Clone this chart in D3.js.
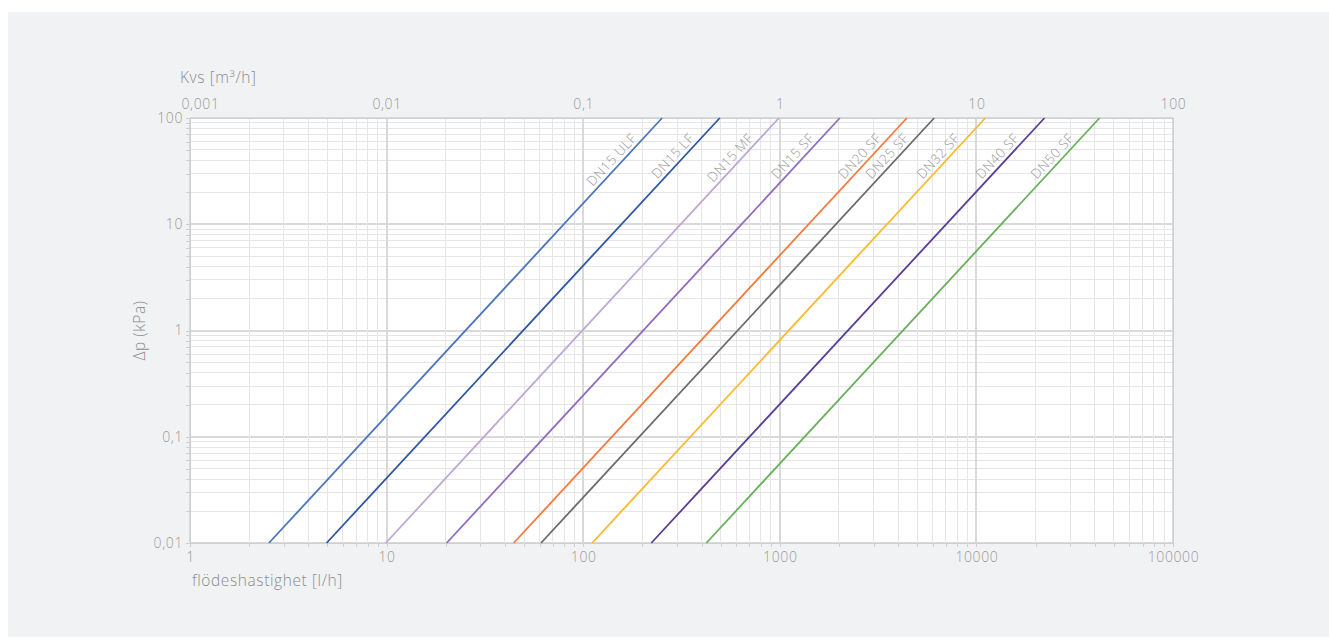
<!DOCTYPE html>
<html>
    <head>
        <meta charset="utf-8">
        <title>Tryckfall DN15-DN50</title>
        <script src="https://d3js.org/d3.v7.min.js"></script>
        <style>
            body { margin: 0; background: #fff; font-family: "Open Sans", "Lato", sans-serif; font-weight: 300; }
            svg { display: block; }
            .grid line { shape-rendering: crispEdges; }
            .axis path, .axis line { stroke: #cfcfcf; shape-rendering: crispEdges; }
            .axis text { fill: #999; font-size: 14px; letter-spacing: 0.6px; font-family: "Open Sans", "Lato", sans-serif; font-weight: 300; }
            .title { fill: #8c8c8c; font-size: 15.5px; letter-spacing: 0.6px; }
            .serie-label { fill: #999; font-size: 13.5px; letter-spacing: 0.5px; }
        </style>
    </head>
    <body>
        <script>
            const SERIES = ["DN15 ULF", "DN15 LF", "DN15 MF", "DN15 SF", "DN20 SF", "DN25 SF", "DN32 SF", "DN40 SF", "DN50 SF"];
            const FLOW_AT_MIN = [2.52, 4.95, 9.9, 20.2, 44.3, 61, 111, 222, 423];          // l/h at 0.01 kPa
            const FLOW_AT_MAX = [252, 495, 990, 2020, 4430, 6100, 11100, 22200, 42300];   // l/h at 100 kPa
            const COLORS = ["#4a74c0", "#2e56a3", "#c0a7d6", "#8f6cbf", "#f47b3b", "#6a6a6a", "#fbb92c", "#5c3b98", "#67b15a"];

            const X_MAJOR = [1, 10, 100, 1000, 10000, 100000];
            const X_LABELS = ["1", "10", "100", "1000", "10000", "100000"];
            const KVS_MAJOR = [0.001, 0.01, 0.1, 1, 10, 100];
            const KVS_LABELS = ["0,001", "0,01", "0,1", "1", "10", "100"];
            const Y_MAJOR = [0.01, 0.1, 1, 10, 100];
            const Y_LABELS = ["0,01", "0,1", "1", "10", "100"];

            const width = 1329;
            const height = 639;
            const margin = {left: 190, right: 156, top: 118, bottom: 96};

            const svg = d3.select("body")
                .append("svg")
                .attr("width", width)
                .attr("height", height);

            svg.append("rect")
                .attr("x", 8).attr("y", 12)
                .attr("width", width - 8).attr("height", height - 14)
                .attr("fill", "#f1f2f4");

            const x = d3.scaleLog()
                .domain([1, 100000])
                .range([margin.left, width - margin.right]);
            const xKvs = d3.scaleLog()
                .domain([0.001, 100])
                .range(x.range());
            const y = d3.scaleLog()
                .domain([0.01, 100])
                .range([height - margin.bottom, margin.top]);

            const isMajor = v => Math.abs(Math.log10(v) - Math.round(Math.log10(v))) < 1e-9;

            svg.append("rect")
                .attr("x", x.range()[0]).attr("y", y.range()[1])
                .attr("width", x.range()[1] - x.range()[0])
                .attr("height", y.range()[0] - y.range()[1])
                .attr("fill", "#fff");

            // grid, minor first so the decades lie on top
            const grid = svg.append("g").attr("class", "grid");
            const xTicks = x.ticks().sort((a, b) => isMajor(a) - isMajor(b));
            const yTicks = y.ticks().sort((a, b) => isMajor(a) - isMajor(b));

            grid.selectAll(".gy")
                .data(yTicks)
                .enter()
                .append("line")
                .attr("x1", x.range()[0]).attr("x2", x.range()[1])
                .attr("y1", d => y(d)).attr("y2", d => y(d))
                .attr("stroke", d => isMajor(d) ? "#d9d9d9" : "#e6e6e6")
                .attr("stroke-width", d => isMajor(d) ? 2 : 1);

            grid.selectAll(".gx")
                .data(xTicks)
                .enter()
                .append("line")
                .attr("y1", y.range()[0]).attr("y2", y.range()[1])
                .attr("x1", d => x(d)).attr("x2", d => x(d))
                .attr("stroke", d => isMajor(d) ? "#d9d9d9" : "#e6e6e6")
                .attr("stroke-width", d => isMajor(d) ? 2 : 1);

            svg.append("rect")
                .attr("x", x.range()[0] + 0.5).attr("y", y.range()[1] + 0.5)
                .attr("width", x.range()[1] - x.range()[0])
                .attr("height", y.range()[0] - y.range()[1])
                .attr("fill", "none")
                .attr("stroke", "#d0d0d0");

            // axes
            const labelOf = (majors, labels) => d => {
                const i = majors.findIndex(m => Math.abs(m - d) / m < 1e-6);
                return i < 0 ? "" : labels[i];
            };

            svg.append("g")
                .attr("class", "axis")
                .attr("transform", `translate(0,${y.range()[0]})`)
                .call(d3.axisBottom(x).tickValues(x.ticks()).tickSize(4).tickPadding(5)
                    .tickFormat(labelOf(X_MAJOR, X_LABELS)));

            svg.append("g")
                .attr("class", "axis")
                .attr("transform", `translate(${x.range()[0]},0)`)
                .call(d3.axisLeft(y).tickValues(y.ticks()).tickSize(4).tickPadding(3)
                    .tickFormat(labelOf(Y_MAJOR, Y_LABELS)));

            const kvsAxis = svg.append("g")
                .attr("class", "axis")
                .attr("transform", `translate(0,${y.range()[1]})`)
                .call(d3.axisTop(xKvs).tickValues(KVS_MAJOR).tickSize(0).tickPadding(9)
                    .tickFormat(labelOf(KVS_MAJOR, KVS_LABELS)));
            kvsAxis.select(".domain").remove();
            kvsAxis.select(".tick text").attr("text-anchor", "start").attr("dx", -9);

            svg.append("text")
                .attr("class", "title")
                .attr("x", 180).attr("y", 83)
                .text("Kvs [m³/h]");

            svg.append("text")
                .attr("class", "title")
                .attr("x", 192).attr("y", 586)
                .text("flödeshastighet [l/h]");

            svg.append("text")
                .attr("class", "title")
                .attr("transform", `translate(145,${(y.range()[0] + y.range()[1]) / 2}) rotate(-90)`)
                .attr("text-anchor", "middle")
                .text("Δp (kPa)");

            // the valve lines
            const lines = svg.append("g");
            lines.selectAll("line")
                .data(SERIES)
                .enter()
                .append("line")
                .attr("x1", (d, i) => x(FLOW_AT_MIN[i]))
                .attr("y1", y(0.01))
                .attr("x2", (d, i) => x(FLOW_AT_MAX[i]))
                .attr("y2", y(100))
                .attr("stroke", (d, i) => COLORS[i])
                .attr("stroke-width", 1.8);

            const angle = i => Math.atan2(y(0.01) - y(100), x(FLOW_AT_MAX[i]) - x(FLOW_AT_MIN[i])) * 180 / Math.PI;
            // label sits along the line, ending a bit under the top
            const at = i => {
                const t = (Math.log10(60) - Math.log10(0.01)) / 4;
                const lx = x(FLOW_AT_MIN[i]) + t * (x(FLOW_AT_MAX[i]) - x(FLOW_AT_MIN[i]));
                return [lx, y(60)];
            };

            lines.selectAll("text")
                .data(SERIES)
                .enter()
                .append("text")
                .attr("class", "serie-label")
                .attr("text-anchor", "end")
                .attr("dy", -4)
                .attr("transform", (d, i) => `translate(${at(i)[0]},${at(i)[1]}) rotate(${-angle(i)})`)
                .text(d => d);
        </script>
    </body>
</html>
